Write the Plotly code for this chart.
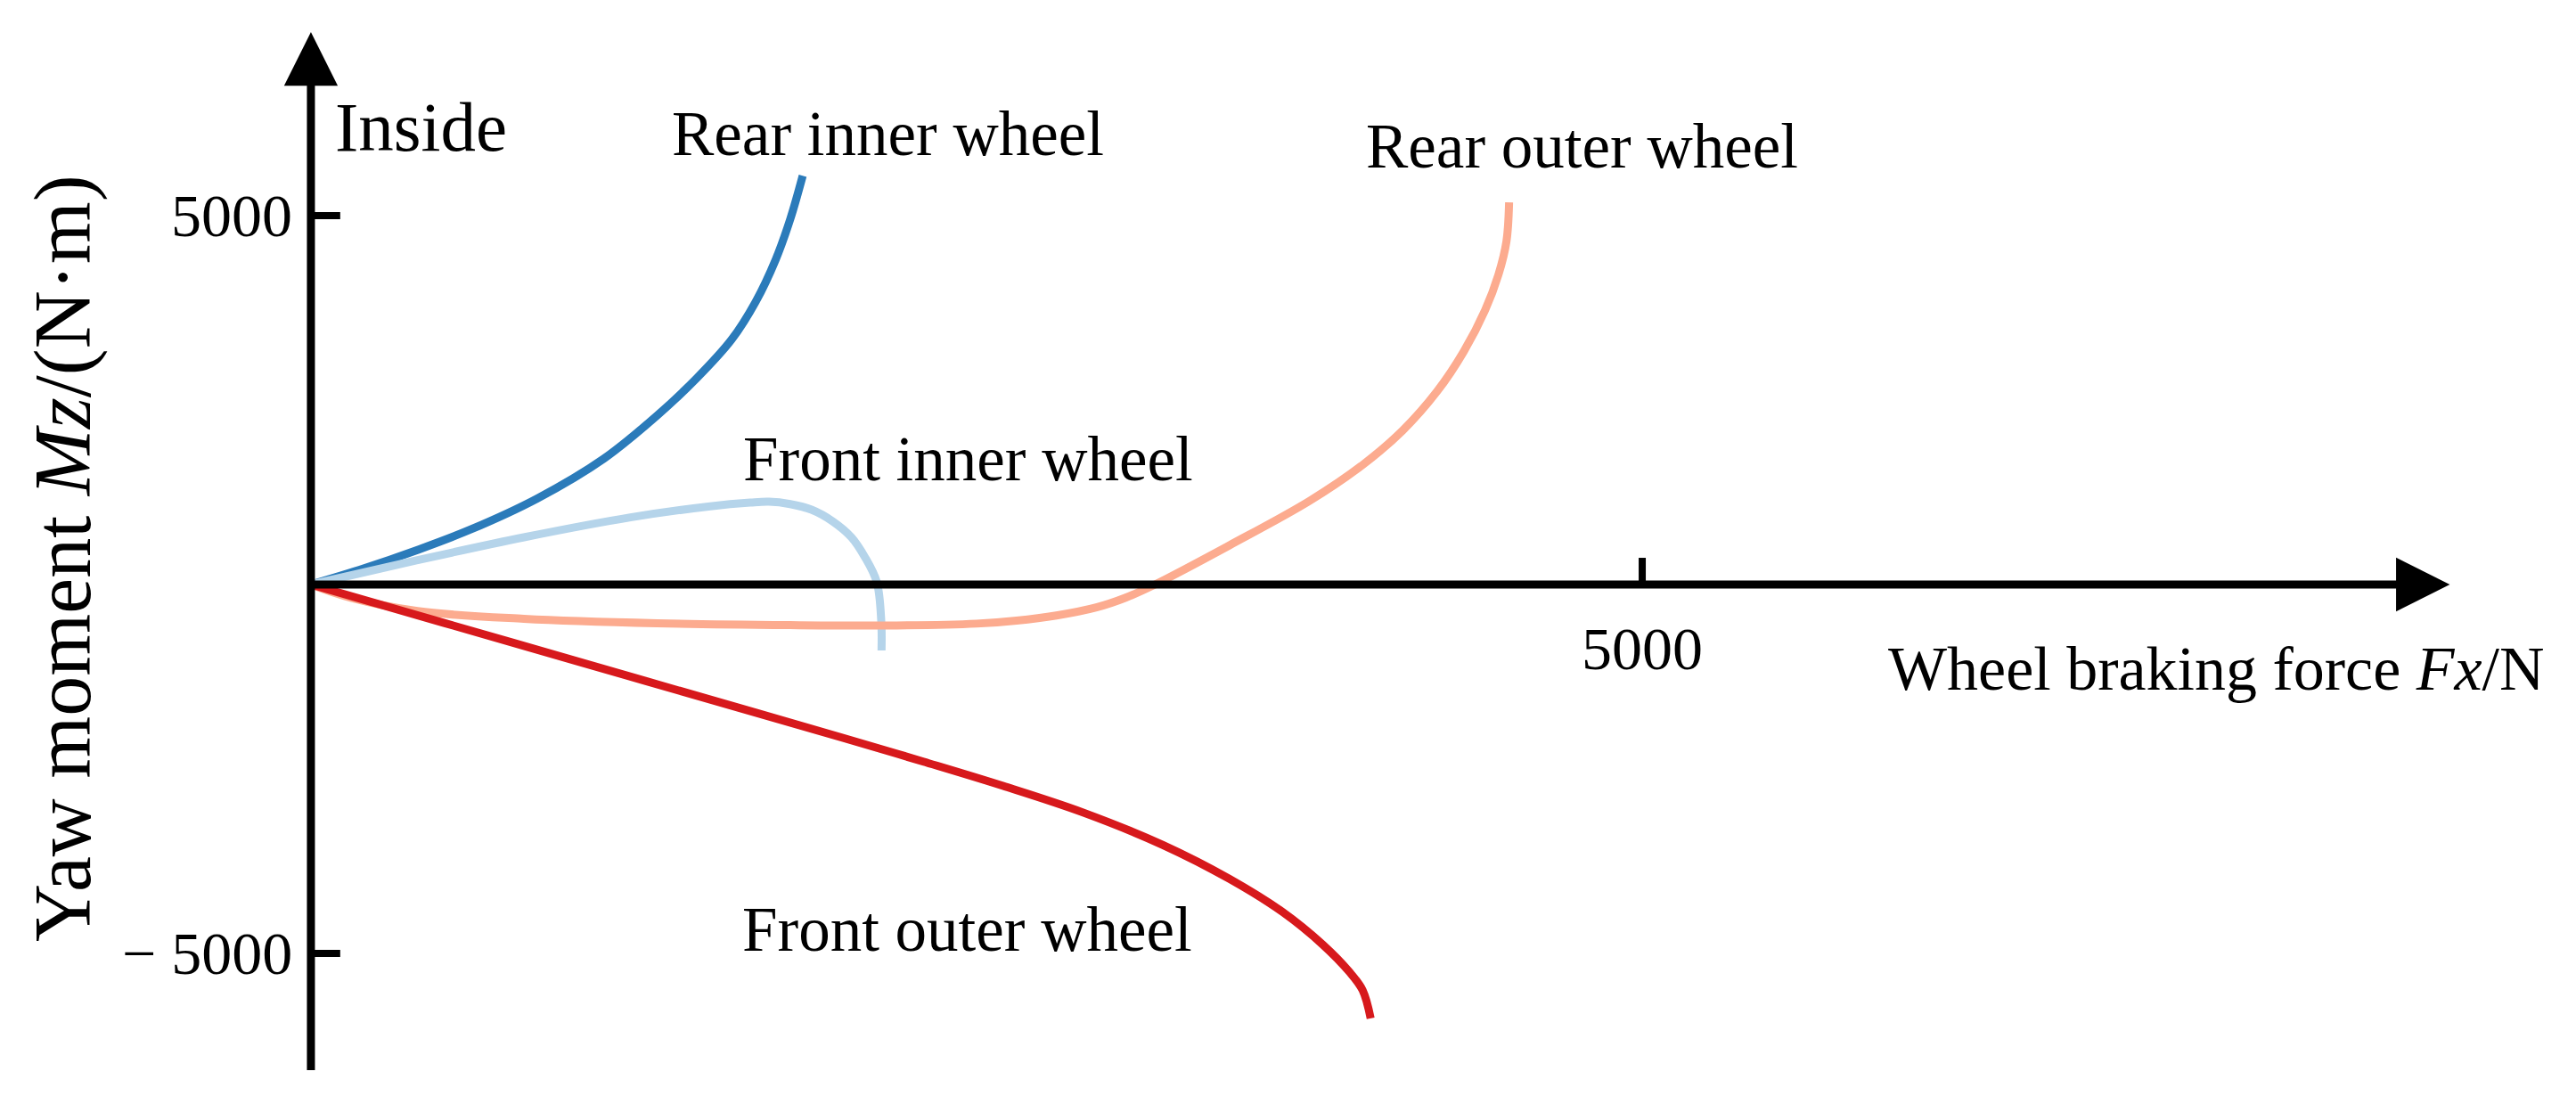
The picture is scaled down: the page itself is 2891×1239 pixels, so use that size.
import plotly.graph_objects as go

# ---- data ----
rear_inner_fx = [0, 200, 400, 600, 850, 1100, 1300, 1450, 1580, 1670, 1745, 1800, 1847]
rear_inner_mz = [0, 220, 469, 746, 1166, 1706, 2290, 2800, 3320, 3830, 4400, 4950, 5540]

front_inner_fx = [0, 400, 800, 1200, 1500, 1650, 1720, 1800, 1880, 1960, 2030, 2080, 2125, 2142, 2143]
front_inner_mz = [0, 330, 640, 910, 1060, 1110, 1122, 1090, 1014, 855, 640, 375, 36, -495, -894]

rear_outer_fx = [0, 150, 400, 800, 1300, 1800, 2200, 2500, 2650, 2800, 2950, 3060, 3170, 3450,
                 3750, 3950, 4100, 4230, 4330, 4410, 4460, 4490, 4500]
rear_outer_mz = [0, -180, -360, -465, -525, -550, -555, -530, -490, -420, -310, -178, 0, 532,
                 1132, 1622, 2087, 2620, 3160, 3720, 4200, 4650, 5180]

front_outer_fx = [0, 500, 1000, 1500, 2000, 2300, 2600, 2900, 3200, 3450, 3650, 3800, 3900, 3950, 3980]
front_outer_mz = [0, -520, -1040, -1560, -2080, -2400, -2730, -3090, -3530, -3990, -4440, -4880, -5250, -5500, -5880]

series_names = ["Rear inner wheel", "Front inner wheel", "Rear outer wheel", "Front outer wheel"]
x_ticks = [5000]
x_tick_labels = ["5000"]
y_ticks = [5000, -5000]
y_tick_labels = ["5000", "\u2212 5000"]

# ---- styling ----
W, H = 2883, 1231          # page body keeps an 8 px margin
X_RANGE = [-1141, 8507]
Y_RANGE = [-7041, 7826]
X_AXIS_END = 8033
Y_AXIS_TOP = 7488
Y_AXIS_BOTTOM = -6600
FONT = "Liberation Serif, Times New Roman, serif"
colors = ["#2b7bba", "#b5d4ea", "#fcab8f", "#d7191c"]

fig = go.Figure()
for name, xs, ys, c in zip(series_names,
                           [rear_inner_fx, front_inner_fx, rear_outer_fx, front_outer_fx],
                           [rear_inner_mz, front_inner_mz, rear_outer_mz, front_outer_mz],
                           colors):
    fig.add_trace(go.Scatter(x=xs, y=ys, mode="lines", name=name,
                             line=dict(color=c, width=9, shape="spline", smoothing=1.0),
                             showlegend=False))

# axes with arrows
fig.add_annotation(x=X_AXIS_END, y=0, ax=0, ay=0, xref="x", yref="y", axref="x", ayref="y",
                   text="", showarrow=True, arrowhead=2, arrowsize=1.34, arrowwidth=9,
                   arrowcolor="black", standoff=0, startstandoff=0)
fig.add_annotation(x=0, y=Y_AXIS_TOP, ax=0, ay=Y_AXIS_BOTTOM, xref="x", yref="y", axref="x", ayref="y",
                   text="", showarrow=True, arrowhead=2, arrowsize=1.34, arrowwidth=9,
                   arrowcolor="black", standoff=0, startstandoff=0)

# tick marks and labels
for v, lab in zip(y_ticks, y_tick_labels):
    fig.add_shape(type="line", xref="x", yref="y", x0=0, x1=110, y0=v, y1=v,
                  line=dict(color="black", width=8))
    fig.add_annotation(x=0, y=v, xref="x", yref="y", text=lab, showarrow=False,
                       xanchor="right", yanchor="middle", xshift=-19,
                       font=dict(family=FONT, size=68, color="black"))
for v, lab in zip(x_ticks, x_tick_labels):
    fig.add_shape(type="line", xref="x", yref="y", x0=v, x1=v, y0=0, y1=362,
                  line=dict(color="black", width=8))
    fig.add_annotation(x=v, y=0, xref="x", yref="y", text=lab, showarrow=False,
                       xanchor="center", yanchor="middle", yshift=-72,
                       font=dict(family=FONT, size=68, color="black"))

# axis titles
fig.add_annotation(x=8397, y=0, xref="x", yref="y", text="Wheel braking force <i>Fx</i>/N",
                   showarrow=False, xanchor="right", yanchor="middle", yshift=-94,
                   font=dict(family=FONT, size=70, color="black"))
fig.add_annotation(x=-930, y=350, xref="x", yref="y", text="Yaw moment <i>Mz</i>/(N\u00b7m)",
                   showarrow=False, textangle=-90, xanchor="center", yanchor="middle",
                   font=dict(family=FONT, size=90, color="black"))
fig.add_annotation(x=84, y=6196, xref="x", yref="y", text="Inside", showarrow=False,
                   xanchor="left", yanchor="middle",
                   font=dict(family=FONT, size=79, color="black"))

# curve labels
label_pos = {"Rear inner wheel": (1348, 6109), "Rear outer wheel": (3955, 5942),
             "Front inner wheel": (1617, 1703), "Front outer wheel": (1614, -4674)}
for name in series_names:
    lx, ly = label_pos[name]
    fig.add_annotation(x=lx, y=ly, xref="x", yref="y", text=name, showarrow=False,
                       xanchor="left", yanchor="middle",
                       font=dict(family=FONT, size=71, color="black"))

fig.update_layout(width=W, height=H, margin=dict(l=0, r=0, t=0, b=0),
                  paper_bgcolor="white", plot_bgcolor="white",
                  xaxis=dict(range=X_RANGE, visible=False, fixedrange=True),
                  yaxis=dict(range=Y_RANGE, visible=False, fixedrange=True))
fig.write_html("out.html")
